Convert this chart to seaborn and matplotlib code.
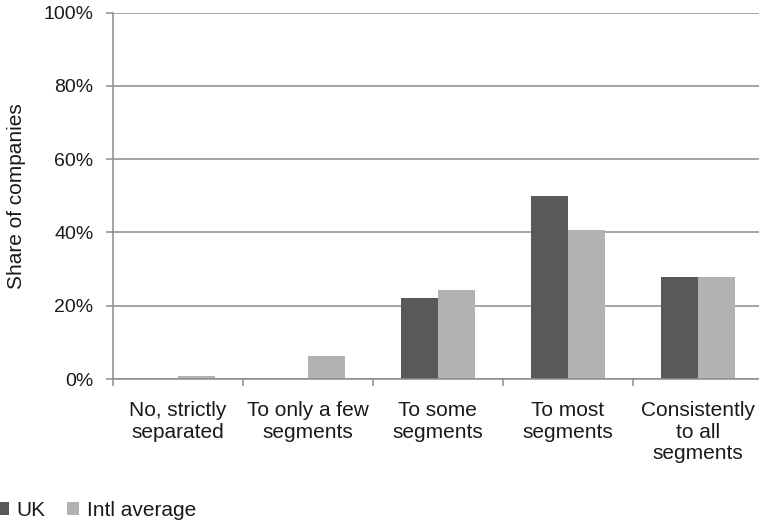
import matplotlib
matplotlib.use("Agg")
import matplotlib.pyplot as plt
import seaborn as sns
import pandas as pd
from matplotlib.ticker import FixedLocator, FuncFormatter

# Survey answers and shares (%) per group
categories = [
    "No, strictly\nseparated",
    "To only a few\nsegments",
    "To some\nsegments",
    "To most\nsegments",
    "Consistently\nto all\nsegments",
]
uk = [0.0, 0.0, 22.2, 50.0, 27.8]
intl_average = [0.7, 6.2, 24.3, 40.6, 27.8]
series_names = ["UK", "Intl average"]
y_ticks = [0, 20, 40, 60, 80, 100]

sns.set_theme(style="white")
plt.rcParams["font.family"] = ["Liberation Sans", "DejaVu Sans"]
plt.rcParams["text.color"] = "#1a1a1a"

df = pd.DataFrame({
    "category": categories * 2,
    "share": uk + intl_average,
    "series": [series_names[0]] * len(uk) + [series_names[1]] * len(intl_average),
})

W, H = 759, 523
fig = plt.figure(figsize=(W / 100, H / 100), dpi=100)
ax = fig.add_axes([112.7 / W, 1 - 379 / H, 650 / W, (379 - 12.7) / H])

sns.barplot(
    data=df, x="category", y="share", hue="series",
    order=categories, hue_order=series_names,
    palette=["#595959", "#b2b2b2"], width=0.57, saturation=1,
    linewidth=0, errorbar=None, ax=ax,
)

grey = "#8c8c8c"
ax.set_xlim(-0.5, len(categories) - 0.5)
ax.set_ylim(0, 100)
ax.set_yticks(y_ticks)
ax.yaxis.set_major_formatter(FuncFormatter(lambda v, _: f"{v:.0f}%"))
ax.yaxis.grid(True, color=grey, linewidth=1.1)
ax.xaxis.grid(False)
ax.set_axisbelow(True)

for side in ("top", "right"):
    ax.spines[side].set_visible(False)
for side in ("left", "bottom"):
    ax.spines[side].set_color(grey)
    ax.spines[side].set_linewidth(1.1)

ax.tick_params(axis="y", which="major", length=5, width=1.1, color=grey,
               direction="out", left=True, pad=9, labelsize=14, labelcolor="#1a1a1a")
ax.tick_params(axis="x", which="major", length=0, pad=16, labelsize=15,
               labelcolor="#1a1a1a")
ax.xaxis.set_minor_locator(FixedLocator([i - 0.5 for i in range(len(categories) + 1)]))
ax.tick_params(axis="x", which="minor", length=5, width=1.1, color=grey,
               direction="out", bottom=True)
for lbl in ax.get_xticklabels():
    lbl.set_linespacing(1.17)

ax.set_xlabel("")
ax.set_ylabel("")
fig.text(7 / W, 1 - 195.85 / H, "Share of companies", fontsize=15,
         rotation=90, ha="left", va="center", color="#1a1a1a")

handles, labels = ax.get_legend_handles_labels()
ax.get_legend().remove()
fig.legend(handles, labels, loc="lower left", bbox_to_anchor=(-3 / W, 3 / H),
           ncol=2, frameon=False, fontsize=15, handlelength=0.57,
           handleheight=0.57, handletextpad=0.38, columnspacing=1.0,
           borderpad=0, borderaxespad=0)

fig.savefig("out.png", dpi=100)
